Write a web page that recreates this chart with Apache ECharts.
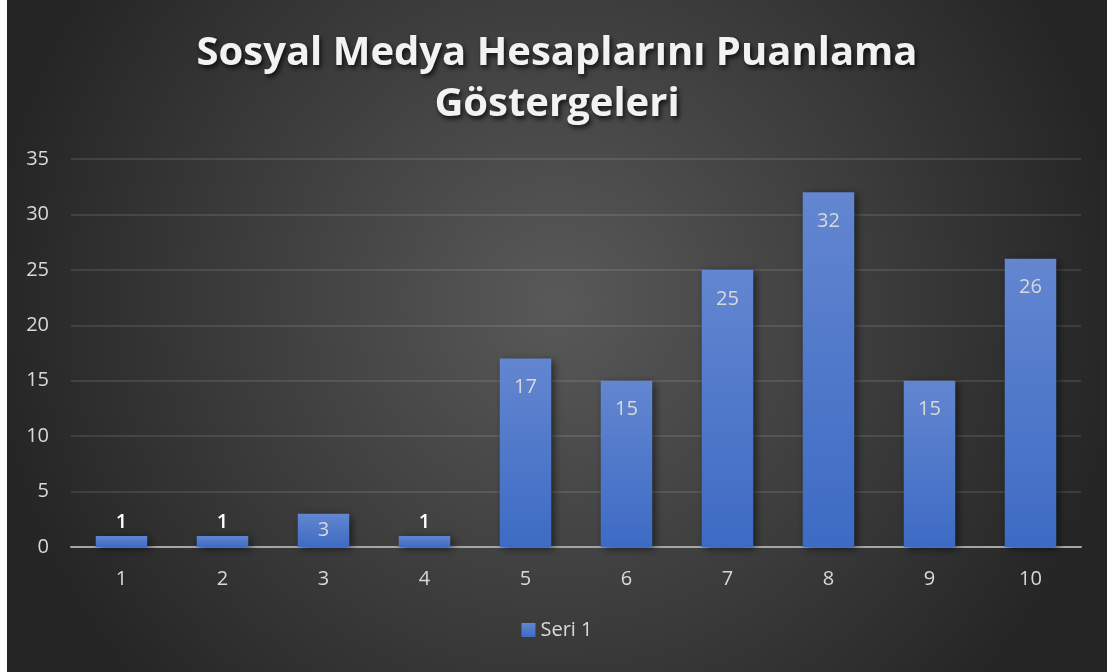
<!DOCTYPE html>
<html>
<head>
<meta charset="utf-8">
<script src="https://cdn.jsdelivr.net/npm/echarts@6/dist/echarts.min.js"></script>
<style>
  html, body { margin: 0; padding: 0; background: #ffffff; }
  #chart { position: absolute; left: 7px; top: 0; width: 1100px; height: 672px; }
</style>
</head>
<body>
<div id="chart"></div>
<script>
// Score categories (1–10) and how many accounts got each score
const categories = ['1', '2', '3', '4', '5', '6', '7', '8', '9', '10'];
const seri1 = [1, 1, 3, 1, 17, 15, 25, 32, 15, 26];
const yTicks = [0, 5, 10, 15, 20, 25, 30, 35];

const FONT = '"Open Sans", "Noto Sans", sans-serif';

// very short bars carry their label above, short ones centred, tall ones near the top
function labelFor(v) {
  if (v < 2) return { position: 'top', distance: 4, color: '#ffffff', fontWeight: 600 };
  if (v < 5) return { position: 'inside' };
  return { position: 'insideTop', distance: 19 };
}

const chart = echarts.init(document.getElementById('chart'));
chart.setOption({
  backgroundColor: {
    type: 'radial', x: 0.5, y: 0.45, r: 0.85,
    colorStops: [
      { offset: 0, color: '#595959' },
      { offset: 1, color: '#252525' }
    ]
  },
  title: {
    text: 'Sosyal Medya Hesaplarını Puanlama\nGöstergeleri',
    left: 'center',
    top: 23,
    textStyle: {
      fontFamily: FONT,
      fontSize: 40,
      fontWeight: 'bold',
      color: '#f2f2f2',
      lineHeight: 51,
      textShadowColor: 'rgba(0,0,0,0.75)',
      textShadowBlur: 5,
      textShadowOffsetX: 2,
      textShadowOffsetY: 3
    }
  },
  legend: {
    bottom: 27,
    left: 'center',
    icon: 'rect',
    itemWidth: 14,
    itemHeight: 14,
    itemGap: 6,
    textStyle: { fontFamily: FONT, fontSize: 20, color: '#d9d9d9' },
    data: ['Seri 1']
  },
  grid: { left: 64, right: 26, top: 159, bottom: 125, containLabel: false },
  xAxis: {
    type: 'category',
    data: categories,
    axisTick: { show: false },
    axisLine: { lineStyle: { color: '#a6a6a6', width: 2 } },
    axisLabel: { fontFamily: FONT, fontSize: 20, color: '#d9d9d9', margin: 22 }
  },
  yAxis: {
    type: 'value',
    min: yTicks[0],
    max: yTicks[yTicks.length - 1],
    interval: yTicks[1] - yTicks[0],
    axisLine: { show: false },
    axisTick: { show: false },
    axisLabel: { fontFamily: FONT, fontSize: 20, color: '#d9d9d9', margin: 22 },
    splitLine: { lineStyle: { color: 'rgba(255,255,255,0.1)', width: 2 } }
  },
  series: [{
    name: 'Seri 1',
    type: 'bar',
    barWidth: '51%',
    data: seri1.map(v => ({ value: v, label: labelFor(v) })),
    itemStyle: {
      color: {
        type: 'linear', x: 0, y: 0, x2: 0, y2: 1,
        colorStops: [
          { offset: 0, color: '#6386d0' },
          { offset: 1, color: '#3d6bc4' }
        ]
      },
      shadowColor: 'rgba(0,0,0,0.55)',
      shadowBlur: 8,
      shadowOffsetX: 3,
      shadowOffsetY: 2
    },
    label: {
      show: true,
      fontFamily: FONT,
      fontSize: 20,
      color: '#d9d9d9'
    }
  }]
});
</script>
</body>
</html>
